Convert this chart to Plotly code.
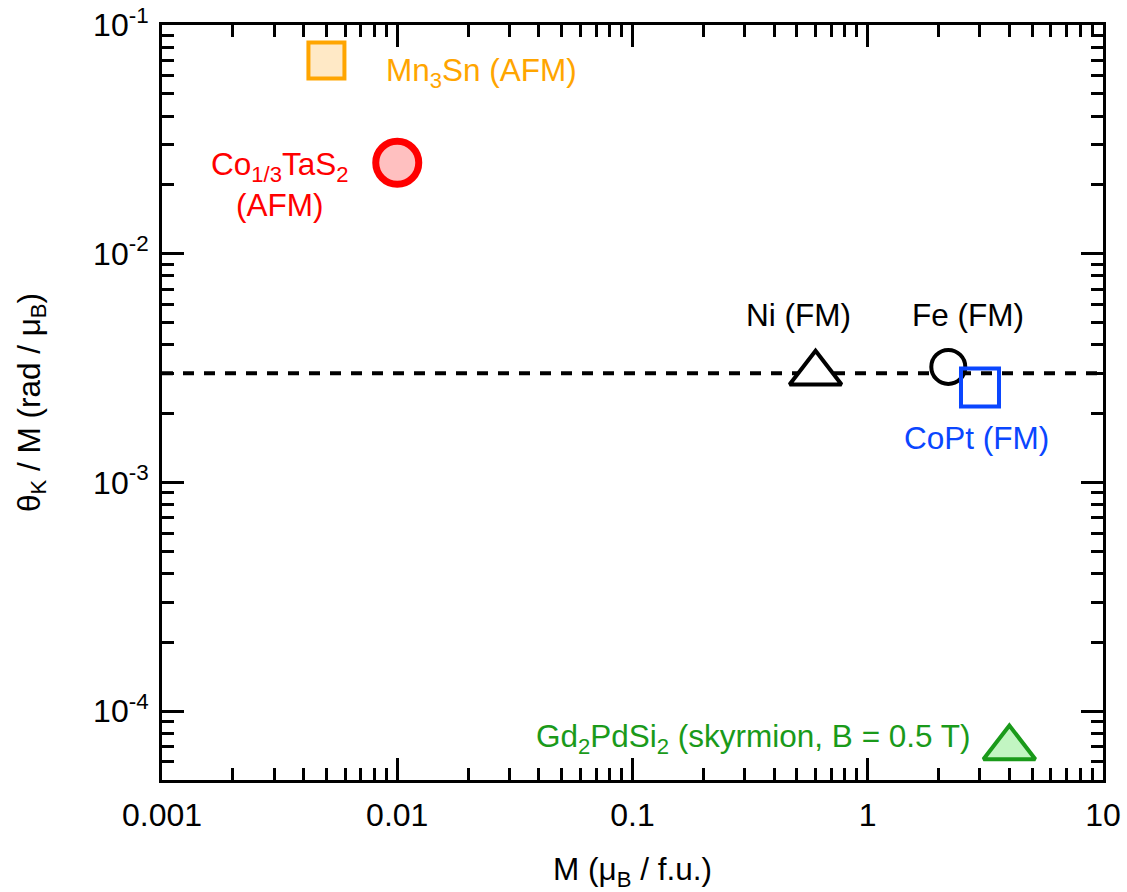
import numpy as np
import plotly.graph_objects as go

# Magnetization (mu_B / f.u.) and Kerr rotation per moment (rad / mu_B)
materials = ["Mn3Sn", "Co1/3TaS2", "Ni", "Fe", "CoPt", "Gd2PdSi2"]
moment = [0.005, 0.010, 0.60, 2.2, 3.0, 4.0]
kerr_per_moment = [0.070, 0.025, 0.0030, 0.0032, 0.0026, 0.000069]

# Reference level drawn as a dashed line
ref_level = 0.003

x_ticks = [0.001, 0.01, 0.1, 1, 10]
x_ticktext = ["0.001", "0.01", "0.1", "1", "10"]
y_ticks = [1e-4, 1e-3, 1e-2, 1e-1]
y_ticktext = ["10<sup>-4</sup>", "10<sup>-3</sup>", "10<sup>-2</sup>", "10<sup>-1</sup>"]

FONT = "Liberation Sans, Arial, Helvetica, sans-serif"
FS = 31.5
TICK_FS = 32

# marker styles per material
styles = {
    "Mn3Sn": dict(symbol="square", size=36, color="#FFE9C6", line=dict(color="#FFA500", width=4)),
    "Co1/3TaS2": dict(symbol="circle", size=43, color="#FFC0C0", line=dict(color="#FF0000", width=7)),
    "Ni": dict(symbol="triangle-up", size=45, color="white", line=dict(color="black", width=4)),
    "Fe": dict(symbol="circle", size=34, color="white", line=dict(color="black", width=4)),
    "CoPt": dict(symbol="square", size=38, color="rgba(0,0,0,0)", line=dict(color="#0A46FF", width=4)),
    "Gd2PdSi2": dict(symbol="triangle-up", size=45, color="#C2F5C2", line=dict(color="#1A9A1A", width=4)),
}

fig = go.Figure()

fig.add_trace(go.Scatter(
    x=[x_ticks[0], x_ticks[-1]], y=[ref_level, ref_level], mode="lines",
    line=dict(color="black", width=4, dash="11px,10px"), hoverinfo="skip", showlegend=False,
))

for name, m, k in zip(materials, moment, kerr_per_moment):
    fig.add_trace(go.Scatter(x=[m], y=[k], mode="markers", marker=styles[name],
                             name=name, showlegend=False, cliponaxis=False))

# text labels: (text, colour, x, y) in data units
labels = [
    ("Mn<sub>3</sub>Sn (AFM)", "#FFA500", 0.0228, 0.0617),
    ("Co<sub>1/3</sub>TaS<sub>2</sub><br>(AFM)", "#FF0000", 0.00315, 0.0200),
    ("Ni (FM)", "black", 0.508, 0.00538),
    ("Fe (FM)", "black", 2.67, 0.00538),
    ("CoPt (FM)", "#0A46FF", 2.91, 0.00157),
    ("Gd<sub>2</sub>PdSi<sub>2</sub> (skyrmion, B = 0.5 T)", "#1A9A1A", 0.324, 0.0000759),
]
for text, col, lx, ly in labels:
    fig.add_annotation(x=np.log10(lx), y=np.log10(ly), xref="x", yref="y", text=text,
                       showarrow=False, font=dict(family=FONT, size=FS, color=col),
                       align="center")

axis_common = dict(
    type="log", showgrid=False, zeroline=False, showline=True, linecolor="black",
    linewidth=3, mirror="allticks", ticks="inside", ticklen=22, tickwidth=2.5,
    tickcolor="black", tickfont=dict(family=FONT, size=TICK_FS, color="black"),
    automargin=False,
    minor=dict(ticks="inside", ticklen=12, tickwidth=2.5, tickcolor="black",
               dtick="D1", showgrid=False),
)

fig.update_xaxes(
    **axis_common, range=[-3, 1], tickvals=x_ticks, ticktext=x_ticktext,
    ticklabelstandoff=5,
    title=dict(text="M (μ<sub>B</sub> / f.u.)", font=dict(family=FONT, size=FS, color="black"),
               standoff=28),
)
fig.update_yaxes(
    **axis_common, range=[np.log10(5.0e-5), -1], tickvals=y_ticks, ticktext=y_ticktext,
    ticklabelstandoff=4,
    title=dict(text="θ<sub>K</sub> / M (rad / μ<sub>B</sub>)",
               font=dict(family=FONT, size=FS, color="black"), standoff=44),
)

fig.update_layout(
    width=1127, height=892, plot_bgcolor="white", paper_bgcolor="white",
    margin=dict(l=162, r=24, t=25, b=112), showlegend=False,
    font=dict(family=FONT, size=FS, color="black"),
)

fig.write_html("out.html")
